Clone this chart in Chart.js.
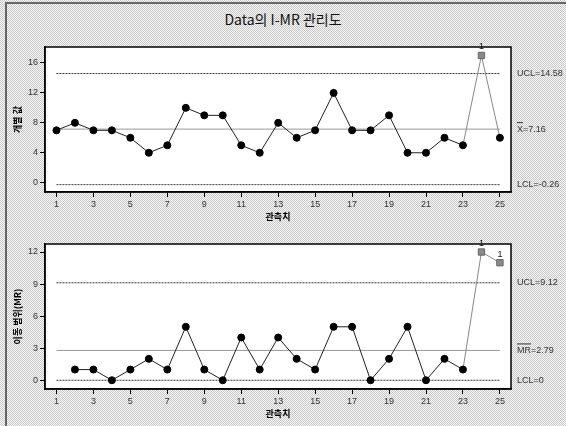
<!DOCTYPE html>
<html>
<head>
<meta charset="utf-8">
<script src="https://cdn.jsdelivr.net/npm/chart.js@4.4.0/dist/chart.umd.min.js"></script>
<style>
  html, body { margin: 0; padding: 0; }
  body { width: 566px; height: 426px; overflow: hidden; position: relative; background-color: #e0e0e0; }
  #frame { position: absolute; left: 5px; top: 2px; width: 600px; height: 500px;
    border-left: 2px solid #666; border-top: 2px solid #666; }
  #title { position: absolute; left: 0; top: 9px; width: 566px; text-align: center;
    font: 14px "Noto Sans CJK KR"; color: #111; }
  canvas { position: absolute; left: 0; }
</style>
</head>
<body>
<div id="frame"></div>
<div id="title">Data의 I-MR 관리도</div>
<canvas id="iChart" width="566" height="226" style="top:0"></canvas>
<canvas id="mrChart" width="566" height="200" style="top:226px"></canvas>
<script>
const observations = [1,2,3,4,5,6,7,8,9,10,11,12,13,14,15,16,17,18,19,20,21,22,23,24,25];
const individualValues = [7,8,7,7,6,4,5,10,9,9,5,4,8,6,7,12,7,7,9,4,4,6,5,17,6];
const movingRanges = [null,1,1,0,1,2,1,5,1,0,4,1,4,2,1,5,5,0,2,5,0,2,1,12,11];
const xTickLabels = [1,3,5,7,9,11,13,15,17,19,21,23,25];
const iTickLabels = [0,4,8,12,16];
const mrTickLabels = [0,3,6,9,12];
const iLimits = [14.58, 7.16, -0.26];   // UCL, center, LCL
const mrLimits = [9.12, 2.79, 0];
const iFlagged = [24];
const mrFlagged = [24, 25];

const tickFont = { family: "Liberation Sans", size: 9 };
const titleFont = { family: "Noto Sans CJK KR", size: 9, weight: "bold" };

// dithered page background, 1px checker
const tile = document.createElement("canvas");
tile.width = 2; tile.height = 2;
const tctx = tile.getContext("2d");
tctx.fillStyle = "#f8f8f8"; tctx.fillRect(0, 0, 2, 2);
tctx.fillStyle = "#c8c8c8"; tctx.fillRect(0, 0, 1, 1); tctx.fillRect(1, 1, 1, 1);
document.body.style.backgroundImage = "url(" + tile.toDataURL() + ")";
document.body.style.imageRendering = "pixelated";

function limitLine(y, dashed) {
  return {
    data: [{ x: 1, y: y }, { x: 25, y: y }],
    borderColor: dashed ? "#333" : "#999",
    borderWidth: 1,
    borderDash: dashed ? [2, 1] : [],
    pointRadius: 0,
    fill: false,
  };
}

function makeChart(id, values, limits, flagged, yTicks, yMin, yMax, yTitle, labels, pad) {
  const isFlag = (x) => flagged.includes(x);
  const points = observations.map((x, i) => ({ x: x, y: values[i] }));

  const decorate = {
    id: "decorate",
    beforeDraw(chart) {
      const { ctx, chartArea: a } = chart;
      ctx.save();
      ctx.fillStyle = "#fff";
      ctx.fillRect(a.left, a.top, a.right - a.left, a.bottom - a.top);
      ctx.restore();
    },
    afterDraw(chart) {
      const { ctx, chartArea: a, scales } = chart;
      ctx.save();
      ctx.strokeStyle = "#000";
      ctx.lineWidth = 1.5;
      ctx.strokeRect(a.left, a.top, a.right - a.left, a.bottom - a.top);

      // limit labels on the right
      ctx.font = "9px 'Liberation Sans'";
      ctx.fillStyle = "#333";
      ctx.textBaseline = "middle";
      limits.forEach((v, i) => {
        const y = scales.y.getPixelForValue(v);
        ctx.fillText(labels[i], 517, y);
        if (i === 1) {
          const w = ctx.measureText(labels[i].split("=")[0]).width;
          ctx.strokeStyle = "#333";
          ctx.lineWidth = 1;
          ctx.beginPath();
          ctx.moveTo(517, y - 6.5);
          ctx.lineTo(517 + w, y - 6.5);
          ctx.stroke();
        }
      });

      // test failure markers
      ctx.fillStyle = "#111";
      ctx.textAlign = "center";
      ctx.textBaseline = "bottom";
      flagged.forEach((x) => {
        const px = scales.x.getPixelForValue(x);
        const py = scales.y.getPixelForValue(values[x - 1]);
        ctx.fillText("1", px, py - 4);
      });
      ctx.restore();
    },
  };

  return new Chart(document.getElementById(id), {
    type: "line",
    data: {
      datasets: [
        {
          data: points,
          borderColor: "#222",
          borderWidth: 1,
          pointStyle: observations.map((x) => (isFlag(x) ? "rect" : "circle")),
          pointRadius: observations.map((x) => (isFlag(x) ? 4.5 : 3.5)),
          pointBackgroundColor: observations.map((x) => (isFlag(x) ? "#8a8a8a" : "#000")),
          pointBorderColor: observations.map((x) => (isFlag(x) ? "#666" : "#000")),
          pointBorderWidth: 1,
          segment: {
            borderColor: (c) =>
              isFlag(c.p0.parsed.x) || isFlag(c.p1.parsed.x) ? "#888" : "#222",
          },
          clip: false,
          order: 0,
        },
        { ...limitLine(limits[0], true), order: 1 },
        { ...limitLine(limits[1], false), order: 1 },
        { ...limitLine(limits[2], true), order: 1 },
      ],
    },
    options: {
      responsive: false,
      animation: false,
      layout: { padding: pad },
      plugins: { legend: { display: false }, tooltip: { enabled: false } },
      scales: {
        x: {
          type: "linear",
          min: 0.38,
          max: 25.6,
          afterBuildTicks: (s) => { s.ticks = xTickLabels.map((v) => ({ value: v })); },
          afterFit: (s) => { s.height = 34; },
          ticks: { font: tickFont, color: "#333", padding: 2, maxRotation: 0, autoSkip: false },
          grid: { drawOnChartArea: false, drawTicks: true, tickLength: 5, color: "#000" },
          border: { display: true, color: "#000", width: 1.5 },
          title: { display: true, text: "관측치", font: titleFont, color: "#000", padding: { top: 4, bottom: 4 } },
        },
        y: {
          min: yMin,
          max: yMax,
          afterBuildTicks: (s) => { s.ticks = yTicks.map((v) => ({ value: v })); },
          afterFit: (s) => { s.width = 37; },
          ticks: { font: tickFont, color: "#333", padding: 2 },
          grid: { drawOnChartArea: false, drawTicks: true, tickLength: 5, color: "#000" },
          border: { display: true, color: "#000", width: 1.5 },
          title: { display: true, text: yTitle, font: titleFont, color: "#000", padding: { top: 4, bottom: 4 } },
        },
      },
    },
    plugins: [decorate],
  });
}

makeChart("iChart", individualValues, iLimits, iFlagged, iTickLabels, -1.24, 18.13,
  "개별 값", ["UCL=14.58", "X=7.16", "LCL=-0.26"],
  { top: 47, right: 55, left: 8, bottom: 0 });

makeChart("mrChart", movingRanges, mrLimits, mrFlagged, mrTickLabels, -0.82, 12.75,
  "이동 범위(MR)", ["UCL=9.12", "MR=2.79", "LCL=0"],
  { top: 18, right: 55, left: 8, bottom: 3 });
</script>
</body>
</html>
